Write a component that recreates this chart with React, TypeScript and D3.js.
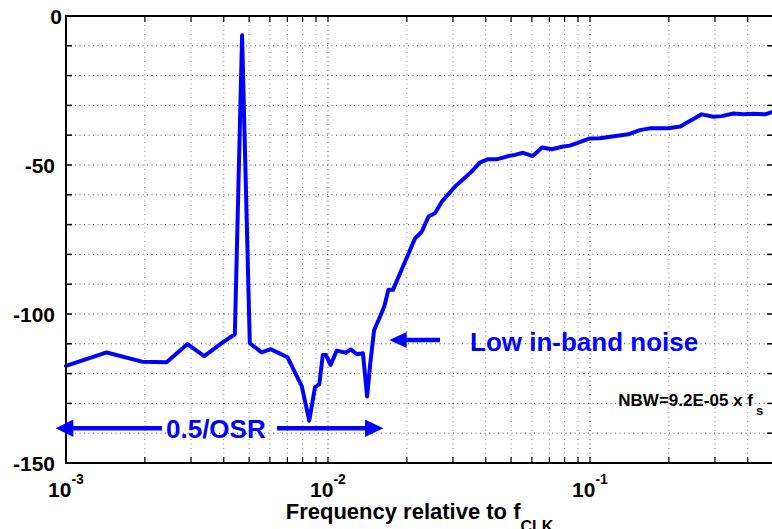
import React from "react";
import * as d3 from "d3";

const freq = [
  1.0e-3, 1.43e-3, 1.95e-3, 2.42e-3, 2.91e-3, 3.37e-3, 3.93e-3, 4.41e-3, 4.7e-3,
  5.03e-3, 5.58e-3, 6.04e-3, 7.0e-3, 7.94e-3, 8.48e-3, 8.92e-3, 9.27e-3, 9.55e-3,
  9.83e-3, 1.023e-2, 1.08e-2, 1.17e-2, 1.22e-2, 1.29e-2, 1.36e-2, 1.41e-2, 1.45e-2,
  1.5e-2, 1.58e-2, 1.64e-2, 1.7e-2, 1.77e-2, 1.97e-2, 2.15e-2, 2.28e-2, 2.42e-2,
  2.56e-2, 2.72e-2, 3.05e-2, 3.48e-2, 3.8e-2, 4.06e-2, 4.4e-2, 4.88e-2, 5.17e-2,
  5.56e-2, 6.04e-2, 6.57e-2, 7.14e-2, 7.91e-2, 8.39e-2, 0.1, 0.109, 0.14, 0.155,
  0.169, 0.199, 0.221, 0.267, 0.296, 0.318, 0.353, 0.385, 0.42, 0.466, 0.5,
];
const psd = [
  -117.4, -112.9, -116.0, -116.2, -110.1, -114.1, -109.8, -106.8, -6.5,
  -109.8, -112.9, -111.8, -114.5, -124.2, -135.8, -124.6, -123.5, -113.8,
  -113.8, -117.1, -112.3, -113.0, -111.9, -113.5, -113.2, -127.7, -116.6,
  -105.4, -100.9, -97.5, -91.9, -91.9, -82.4, -74.6, -72.4, -67.3,
  -66.2, -62.3, -57.3, -52.8, -49.2, -48.1, -48.1, -47.0, -46.6,
  -45.9, -47.0, -44.1, -44.7, -43.8, -43.5, -41.1, -41.0, -39.7, -38.3,
  -37.7, -37.7, -37.1, -33.0, -33.8, -33.6, -32.7, -33.0, -32.8, -33.0, -32.1,
];
const yTicks = [0, -50, -100, -150];
const yGrid = d3.range(-150, 1, 10);
const xMajor = [1e-3, 1e-2, 1e-1];
const xMajorExp = ["-3", "-2", "-1"];

const FONT = "'Liberation Sans', Arial, Helvetica, sans-serif";

export default function App() {
  const left = 66, right = 773.1, top = 16, bottom = 463;
  const x = d3.scaleLog().domain([1e-3, 0.5]).range([left, right]);
  const y = d3.scaleLinear().domain([-150, 0]).range([bottom, top]);

  const minor: number[] = [];
  for (const d of [1e-3, 1e-2, 1e-1]) {
    for (let k = 1; k <= 9; k++) {
      const v = k * d;
      if (v > 1e-3 * 1.0001 && v < 0.5 * 0.9999) minor.push(v);
    }
  }

  const line = d3
    .line<number>()
    .x((_, i) => x(freq[i]))
    .y((d) => y(d));

  const arrowY = 428.3;
  const lowY = 340;

  return (
    <svg
      width={772}
      height={529}
      style={{ position: "absolute", left: 0, top: 0, background: "#fff" }}
      fontFamily={FONT}
      fontWeight="bold"
    >
      <rect x={0} y={0} width={772} height={529} fill="#fff" />
      {/* grid */}
      {minor.map((v, i) => {
        const isMajor = xMajor.some((m) => Math.abs(m - v) / m < 1e-6);
        return (
          <line
            key={"vg" + i}
            x1={x(v)}
            x2={x(v)}
            y1={top}
            y2={bottom}
            stroke={isMajor ? "#444" : "#888"}
            strokeWidth={1}
            strokeDasharray="1 3.5"
          />
        );
      })}
      {yGrid
        .filter((v) => v > -150 && v < 0)
        .map((v) => (
          <line
            key={"hg" + v}
            x1={left}
            x2={right}
            y1={y(v)}
            y2={y(v)}
            stroke="#555"
            strokeWidth={1}
            strokeDasharray="1 3.5"
          />
        ))}
      {/* ticks */}
      {yGrid.map((v) => (
        <g key={"yt" + v}>
          <line x1={left} x2={left + 6} y1={y(v)} y2={y(v)} stroke="#000" strokeWidth={1.5} />
          <line x1={right - 6} x2={right} y1={y(v)} y2={y(v)} stroke="#000" strokeWidth={1.5} />
        </g>
      ))}
      {minor.map((v, i) => (
        <g key={"xt" + i}>
          <line x1={x(v)} x2={x(v)} y1={bottom} y2={bottom - 6} stroke="#000" strokeWidth={1.2} />
          <line x1={x(v)} x2={x(v)} y1={top} y2={top + 6} stroke="#000" strokeWidth={1.2} />
        </g>
      ))}
      {/* data */}
      <path
        d={line(psd) || ""}
        fill="none"
        stroke="#0000ff"
        strokeWidth={4}
        strokeLinejoin="round"
        strokeLinecap="round"
      />
      {/* frame */}
      <rect
        x={left}
        y={top}
        width={right - left}
        height={bottom - top}
        fill="none"
        stroke="#000"
        strokeWidth={2}
      />
      {/* y tick labels */}
      {yTicks.map((v) => (
        <text
          key={"yl" + v}
          x={v === 0 ? 62 : 55}
          y={y(v) + 8}
          textAnchor="end"
          fontSize={21}
          fill="#000"
        >
          {v === 0 ? "0" : String(v)}
        </text>
      ))}
      {/* x tick labels */}
      {xMajor.map((v, i) => (
        <text key={"xl" + v} x={x(v)} y={496.7} textAnchor="middle" fontSize={21} fill="#000">
          10
          <tspan fontSize={14} dy={-13}>
            {xMajorExp[i]}
          </tspan>
        </text>
      ))}
      {/* x label */}
      <text x={(left + right) / 2} y={519.3} textAnchor="middle" fontSize={22} fill="#000">
        Frequency relative to f
        <tspan fontSize={16} dy={13}>
          CLK
        </tspan>
      </text>
      {/* NBW */}
      <text x={618.3} y={406} fontSize={17} fill="#000">
        NBW=9.2E-05 x f
        <tspan fontSize={13} dx={3} dy={9}>
          s
        </tspan>
      </text>
      {/* 0.5/OSR arrow */}
      <line x1={72} x2={162} y1={arrowY} y2={arrowY} stroke="#0000ff" strokeWidth={4.5} />
      <line x1={277} x2={367} y1={arrowY} y2={arrowY} stroke="#0000ff" strokeWidth={4.5} />
      <path
        d={`M55.7,${arrowY} L73.3,${arrowY - 8.8} L73.3,${arrowY + 8.8} Z`}
        fill="#0000ff"
      />
      <path
        d={`M383.3,${arrowY} L365,${arrowY - 8.8} L365,${arrowY + 8.8} Z`}
        fill="#0000ff"
      />
      <text x={166} y={438.3} fontSize={26} fill="#0000ff">
        0.5/OSR
      </text>
      {/* Low in-band noise */}
      <line x1={405} x2={440} y1={lowY} y2={lowY} stroke="#0000ff" strokeWidth={4.5} />
      <path d={`M389.3,${lowY} L406.7,${lowY - 8} L406.7,${lowY + 8} Z`} fill="#0000ff" />
      <text x={470} y={350.7} fontSize={26} fill="#0000ff">
        Low in-band noise
      </text>
    </svg>
  );
}
